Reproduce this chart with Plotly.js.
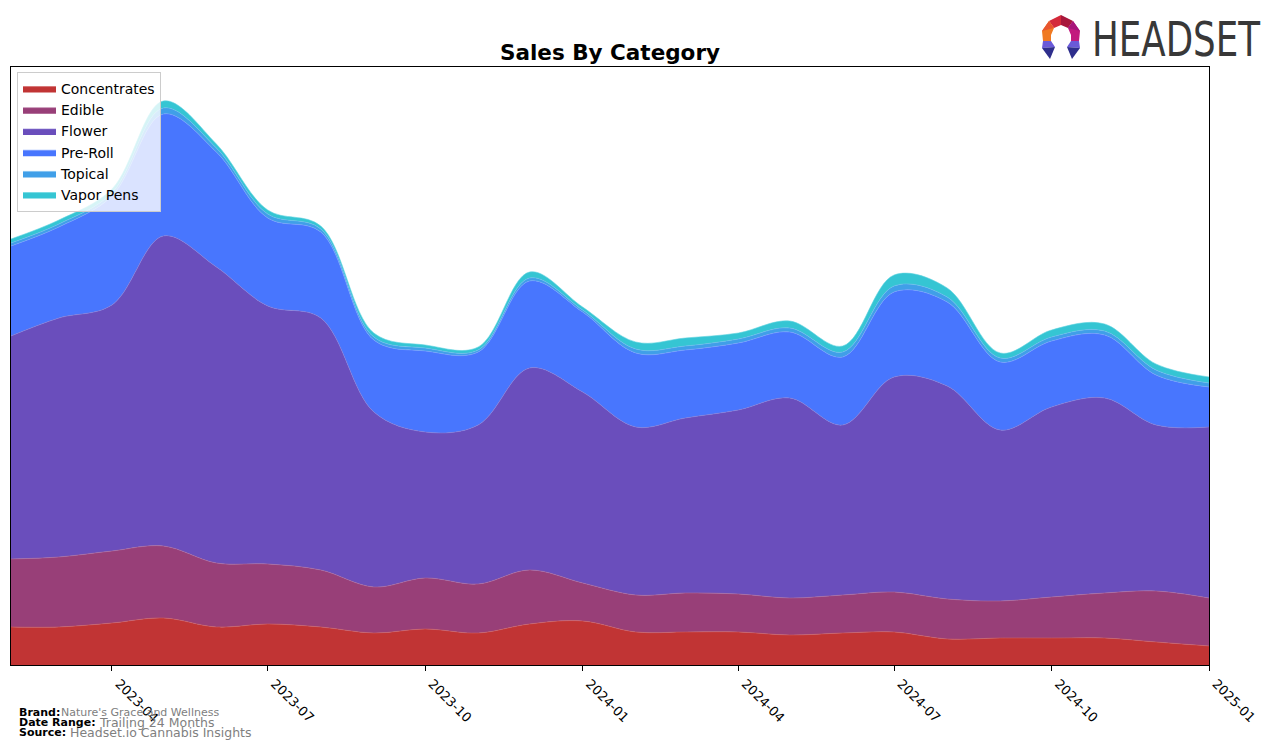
<!DOCTYPE html>
<html>
<head>
<meta charset="utf-8">
<script src="https://cdn.plot.ly/plotly-3.0.1.min.js"></script>
<style>
  html, body { margin: 0; padding: 0; background: #ffffff; }
  #chart { width: 1276px; height: 748px; }
</style>
</head>
<body>
<div id="chart"></div>
<script>
// ---- data (monthly; arbitrary units) ----
const months = ["2023-02-01","2023-03-01","2023-04-01","2023-05-01","2023-06-01","2023-07-01",
                "2023-08-01","2023-09-01","2023-10-01","2023-11-01","2023-12-01","2024-01-01",
                "2024-02-01","2024-03-01","2024-04-01","2024-05-01","2024-06-01","2024-07-01",
                "2024-08-01","2024-09-01","2024-10-01","2024-11-01","2024-12-01","2025-01-01"];
const concentrates = [38,38,42,47,38,41,38,32,36,32,41,44,33,33,33,30,32,33,26,27,27,27,23,19];
const edible       = [68,70,72,72,64,60,57,46,51,49,54,38,37,39,38,37,38,40,40,37,41,45,51,48];
const flower       = [223,239,246,310,296,258,252,175,146,159,202,191,168,175,184,200,170,215,213,171,190,195,166,171];
const preRoll      = [90,91,109,122,115,88,86,72,81,73,87,80,74,68,67,66,68,85,84,68,66,63,50,40];
const topical      = [3,3,3,6,4,4,3,3,3,2,3,2,4,4,4,4,5,6,5,4,4,4,5,4];
const vaporPens    = [4,4,4,7,4,4,3,4,3,3,6,3,7,8,6,7,6,11,9,5,7,7,6,6];
const tickVals     = ["2023-04-01","2023-07-01","2023-10-01","2024-01-01","2024-04-01","2024-07-01","2024-10-01","2025-01-01"];
const tickText     = ["2023-04","2023-07","2023-10","2024-01","2024-04","2024-07","2024-10","2025-01"];

const seriesNames  = ["Concentrates","Edible","Flower","Pre-Roll","Topical","Vapor Pens"];
const seriesValues = [concentrates, edible, flower, preRoll, topical, vaporPens];
const fillColors   = ["#c13434","#983f78","#6a4ebc","#4876fe","#409fe8","#35c5d3"];
const edgeColors   = ["#d06060","#b06a98","#8a78d0","#7a9cff","#70b8f0","#60d4df"];

const traces = seriesNames.map((name, i) => ({
  type: "scatter",
  mode: "lines",
  name: name,
  x: months,
  y: seriesValues[i],
  stackgroup: "one",
  fillcolor: fillColors[i],
  line: { shape: "spline", smoothing: 1.0, width: 0.6, color: edgeColors[i] },
  hoverinfo: "skip"
}));

// Headset logo as inline SVG (data URI, no network)
const logoSvg =
 '<svg xmlns="http://www.w3.org/2000/svg" width="222" height="46" viewBox="0 0 222 46">' +
 '<polygon points="9,7 21,1 21,11 14,14" fill="#d42a3a"/>' +
 '<polygon points="21,1 33,7 28,14 21,11" fill="#a8173c"/>' +
 '<polygon points="9,7 14,14 11,21 11,27 3,27 2,17" fill="#f07a22"/>' +
 '<polygon points="9,7 14,14 2,17" fill="#e8552e"/>' +
 '<polygon points="33,7 40,17 39,27 31,27 31,21 28,14" fill="#c21a7e"/>' +
 '<polygon points="33,7 28,14 40,17" fill="#a8157a"/>' +
 '<polygon points="3,27 11,27 15,33 2,34" fill="#6a5ad8"/>' +
 '<polygon points="2,34 15,33 10,45" fill="#2e2e8c"/>' +
 '<polygon points="31,27 39,27 40,34 27,33" fill="#6a5ad8"/>' +
 '<polygon points="27,33 40,34 32,45" fill="#2e2e8c"/>' +
 '<text x="52" y="42" font-family="Liberation Sans Narrow, DejaVu Sans Condensed, Liberation Sans, sans-serif" font-size="48" fill="#383838" textLength="168" lengthAdjust="spacingAndGlyphs">HEADSET</text>' +
 '</svg>';
const logoUri = "data:image/svg+xml;charset=utf-8," + encodeURIComponent(logoSvg);

// pixel -> paper helpers (plot area: x 11..1209, y 67..665)
const PL = 11, PR = 1209, PT = 67, PB = 665;
const px = v => (v - PL) / (PR - PL);
const py = v => (PB - v) / (PB - PT);

const fontFam = "DejaVu Sans, Liberation Sans, sans-serif";

const layout = {
  width: 1276, height: 748,
  margin: { l: PL, r: 1276 - PR, t: PT, b: 748 - PB, pad: 0 },
  paper_bgcolor: "#ffffff",
  plot_bgcolor: "#ffffff",
  font: { family: fontFam, color: "#000000", size: 13 },
  showlegend: true,
  title: {
    text: "<b>Sales By Category</b>",
    font: { family: fontFam, size: 21.5, color: "#000000" },
    xref: "paper", x: 0.5, xanchor: "center",
    yref: "container", y: 1 - 52 / 748, yanchor: "middle"
  },
  xaxis: {
    type: "date",
    range: ["2023-02-01", "2025-01-01"],
    tickvals: tickVals,
    ticktext: tickText,
    tickangle: 45,
    ticklabelshift: 7,
    ticks: "outside", ticklen: 5, tickwidth: 1, tickcolor: "#000000",
    tickfont: { family: fontFam, size: 13, color: "#000000" },
    showgrid: false, zeroline: false,
    showline: true, linecolor: "#000000", linewidth: 1, mirror: true
  },
  yaxis: {
    range: [0, 598],
    showticklabels: false, ticks: "",
    showgrid: false, zeroline: false,
    showline: true, linecolor: "#000000", linewidth: 1, mirror: true
  },
  legend: {
    x: px(17), y: py(72), xanchor: "left", yanchor: "top",
    bgcolor: "rgba(255,255,255,0.8)",
    bordercolor: "#cccccc", borderwidth: 1,
    font: { family: fontFam, size: 14, color: "#000000" },
    traceorder: "normal",
    tracegroupgap: 0,
    itemwidth: 33
  },
  images: [{
    source: logoUri,
    xref: "paper", yref: "paper",
    x: px(1040), y: py(14),
    sizex: 222 / (PR - PL), sizey: 46 / (PB - PT),
    xanchor: "left", yanchor: "top",
    sizing: "stretch", layer: "above"
  }],
  annotations: [
    { text: "<b>Brand:</b>", x: px(17), y: py(712), xref: "paper", yref: "paper",
      xanchor: "left", yanchor: "middle", showarrow: false,
      font: { family: fontFam, size: 11, color: "#000000" } },
    { text: "Nature's Grace and Wellness", x: px(59), y: py(712), xref: "paper", yref: "paper",
      xanchor: "left", yanchor: "middle", showarrow: false,
      font: { family: fontFam, size: 11, color: "#808080" } },
    { text: "<b>Date Range:</b>", x: px(17), y: py(722), xref: "paper", yref: "paper",
      xanchor: "left", yanchor: "middle", showarrow: false,
      font: { family: fontFam, size: 11, color: "#000000" } },
    { text: "Trailing 24 Months", x: px(97), y: py(722), xref: "paper", yref: "paper",
      xanchor: "left", yanchor: "middle", showarrow: false,
      font: { family: fontFam, size: 12.5, color: "#808080" } },
    { text: "<b>Source:</b>", x: px(17), y: py(732), xref: "paper", yref: "paper",
      xanchor: "left", yanchor: "middle", showarrow: false,
      font: { family: fontFam, size: 11, color: "#000000" } },
    { text: "Headset.io Cannabis Insights", x: px(68), y: py(732), xref: "paper", yref: "paper",
      xanchor: "left", yanchor: "middle", showarrow: false,
      font: { family: fontFam, size: 12.5, color: "#808080" } }
  ]
};

Plotly.newPlot("chart", traces, layout, { staticPlot: true, displayModeBar: false });
</script>
</body>
</html>
